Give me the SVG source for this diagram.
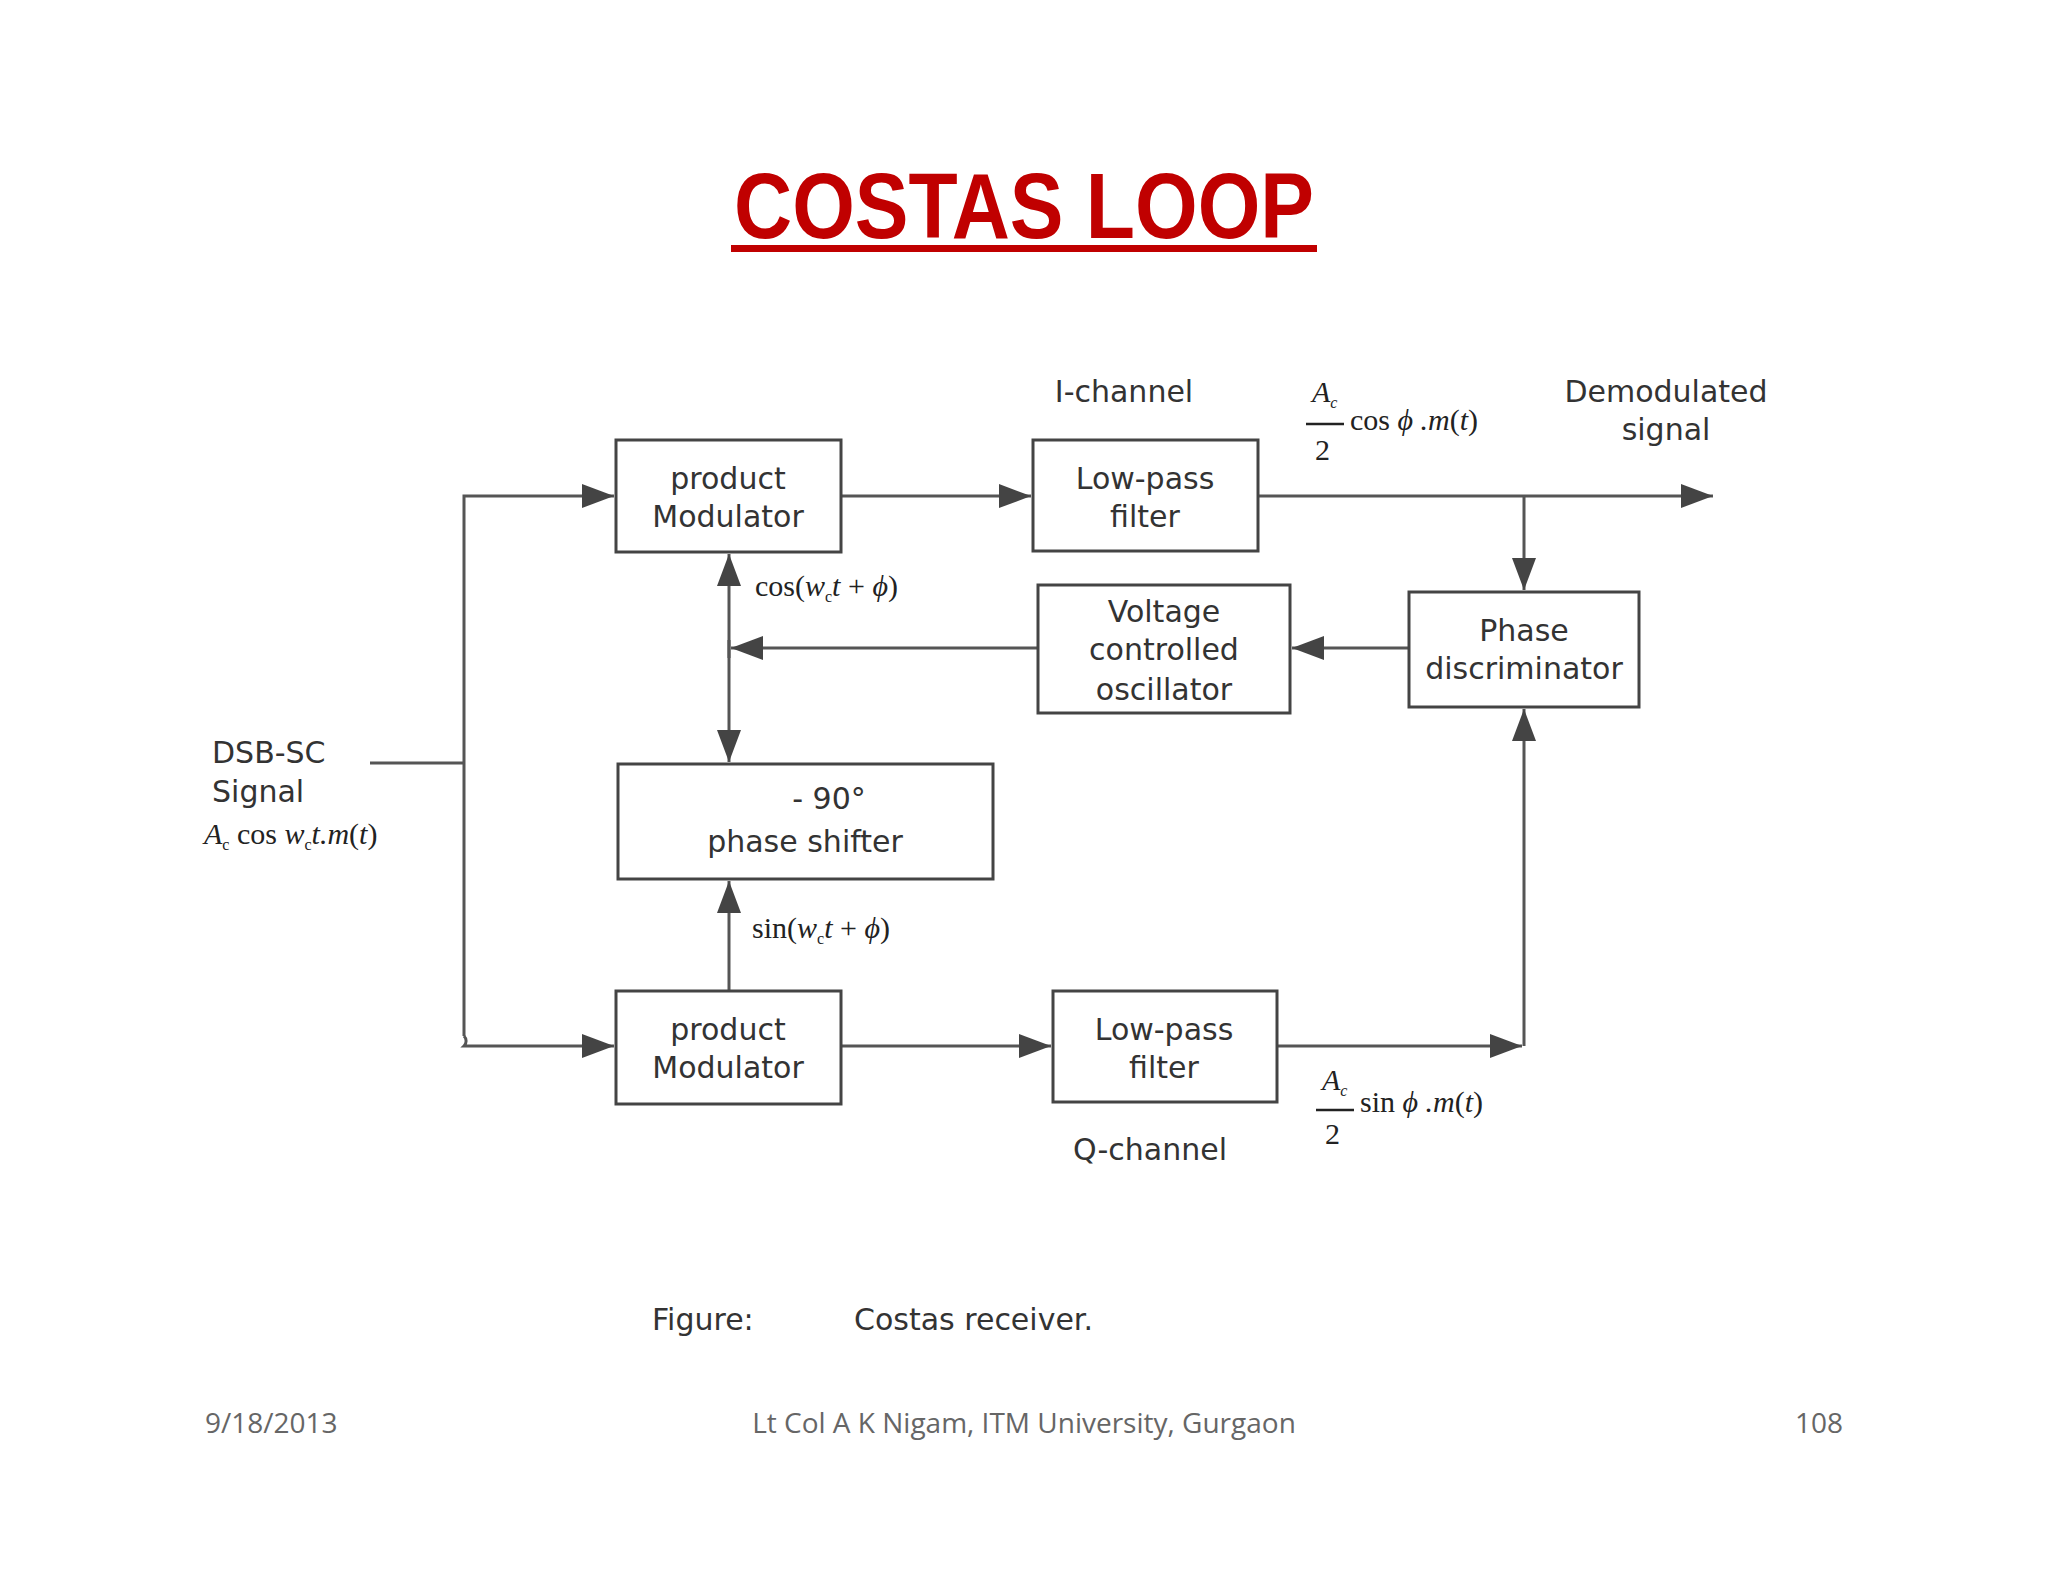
<svg xmlns="http://www.w3.org/2000/svg" width="2048" height="1582" viewBox="0 0 2048 1582">
<style>
.box{fill:#fff;stroke:#444;stroke-width:3}
.t{font-family:"DejaVu Sans",sans-serif;font-size:30px;fill:#333;text-anchor:middle}
.m{font-family:"Liberation Serif",serif;font-size:30px;fill:#222}
.i{font-style:italic}
.ln{stroke:#555;stroke-width:3;fill:none}
.ft{font-family:"Open Sans","Liberation Sans",sans-serif;font-size:28px;fill:#666}
</style>
<defs>
<marker id="a" viewBox="0 0 10 10" refX="10" refY="5" markerWidth="11" markerHeight="11" markerUnits="userSpaceOnUse" orient="auto"><path d="M0,0L10,5L0,10z" fill="#444"/></marker>
<marker id="b" viewBox="0 0 10 10" refX="10" refY="5" markerWidth="32" markerHeight="24" markerUnits="userSpaceOnUse" orient="auto" preserveAspectRatio="none"><path d="M0,0L10,5L0,10z" fill="#444"/></marker>
</defs>
<rect width="2048" height="1582" fill="#fff"/>
<text x="1024" y="238" font-family="Liberation Sans,sans-serif" font-weight="bold" font-size="92" fill="#C00000" text-anchor="middle" textLength="580" lengthAdjust="spacingAndGlyphs">COSTAS LOOP</text>
<rect x="731" y="245" width="586" height="7" fill="#C00000"/>

<g id="connectors">
<path class="ln" d="M370,763H464"/>
<path class="ln" d="M464,1036V496H614" marker-end="url(#b)"/>
<path class="ln" d="M464,1036a7,7 0 0 1 0,10H614" marker-end="url(#b)"/>
<path class="ln" d="M841,496H1031" marker-end="url(#b)"/>
<path class="ln" d="M1258,496H1713" marker-end="url(#b)"/>
<path class="ln" d="M1524,496V590" marker-end="url(#b)"/>
<path class="ln" d="M1409,648H1292" marker-end="url(#b)"/>
<path class="ln" d="M1038,648H731" marker-end="url(#b)"/>
<path class="ln" d="M729,658V554" marker-end="url(#b)"/>
<path class="ln" d="M729,640V762" marker-end="url(#b)"/>
<path class="ln" d="M729,991V881" marker-end="url(#b)"/>
<path class="ln" d="M841,1046H1051" marker-end="url(#b)"/>
<path class="ln" d="M1277,1046H1522" marker-end="url(#b)"/>
<path class="ln" d="M1524,1046V709" marker-end="url(#b)"/>
</g>

<g id="pm1"><rect class="box" x="616" y="440" width="225" height="112"/><text class="t" x="728" y="489">product</text><text class="t" x="728" y="527">Modulator</text></g>
<g id="lpf1"><rect class="box" x="1033" y="440" width="225" height="111"/><text class="t" x="1145" y="489">Low-pass</text><text class="t" x="1145" y="527">filter</text></g>
<g id="vco"><rect class="box" x="1038" y="585" width="252" height="128"/><text class="t" x="1164" y="622">Voltage</text><text class="t" x="1164" y="660">controlled</text><text class="t" x="1164" y="700">oscillator</text></g>
<g id="pd"><rect class="box" x="1409" y="592" width="230" height="115"/><text class="t" x="1524" y="641">Phase</text><text class="t" x="1524" y="679">discriminator</text></g>
<g id="ps"><rect class="box" x="618" y="764" width="375" height="115"/><text class="t" x="829" y="809">- 90°</text><text class="t" x="805" y="852">phase shifter</text></g>
<g id="pm2"><rect class="box" x="616" y="991" width="225" height="113"/><text class="t" x="728" y="1040">product</text><text class="t" x="728" y="1078">Modulator</text></g>
<g id="lpf2"><rect class="box" x="1053" y="991" width="224" height="111"/><text class="t" x="1164" y="1040">Low-pass</text><text class="t" x="1164" y="1078">filter</text></g>

<g id="labels">
<text class="t" x="1124" y="402">I-channel</text>
<text class="t" x="1666" y="402">Demodulated</text>
<text class="t" x="1666" y="440">signal</text>
<text class="t" x="1150" y="1160">Q-channel</text>
<text class="t" x="212" y="763" text-anchor="start" style="text-anchor:start">DSB-SC</text>
<text class="t" x="212" y="802" style="text-anchor:start">Signal</text>
<text class="m" x="204" y="844"><tspan class="i">A</tspan><tspan font-size="16" dy="6">c</tspan><tspan dy="-6"> cos </tspan><tspan class="i">w</tspan><tspan font-size="16" dy="6">c</tspan><tspan dy="-6" class="i">t.m</tspan>(<tspan class="i">t</tspan>)</text>
<text class="m" x="755" y="596">cos(<tspan class="i">w</tspan><tspan font-size="16" dy="6">c</tspan><tspan dy="-6" class="i">t</tspan> + <tspan class="i">ϕ</tspan>)</text>
<text class="m" x="752" y="938">sin(<tspan class="i">w</tspan><tspan font-size="16" dy="6">c</tspan><tspan dy="-6" class="i">t</tspan> + <tspan class="i">ϕ</tspan>)</text>
<text class="m i" x="1312" y="402">A<tspan font-size="16" dy="6">c</tspan></text>
<line x1="1306" y1="424" x2="1344" y2="424" stroke="#222" stroke-width="2.5"/>
<text class="m" x="1315" y="460">2</text>
<text class="m" x="1350" y="430">cos <tspan class="i">ϕ .m</tspan>(<tspan class="i">t</tspan>)</text>
<text class="m i" x="1322" y="1090">A<tspan font-size="16" dy="6">c</tspan></text>
<line x1="1316" y1="1110" x2="1354" y2="1110" stroke="#222" stroke-width="2.5"/>
<text class="m" x="1325" y="1144">2</text>
<text class="m" x="1360" y="1112">sin <tspan class="i">ϕ .m</tspan>(<tspan class="i">t</tspan>)</text>
<text class="t" x="652" y="1330" style="text-anchor:start">Figure:</text>
<text class="t" x="854" y="1330" style="text-anchor:start">Costas receiver.</text>
</g>

<text class="ft" x="205" y="1433">9/18/2013</text>
<text class="ft" x="1024" y="1433" text-anchor="middle">Lt Col A K Nigam, ITM University, Gurgaon</text>
<text class="ft" x="1843" y="1433" text-anchor="end">108</text>
</svg>
